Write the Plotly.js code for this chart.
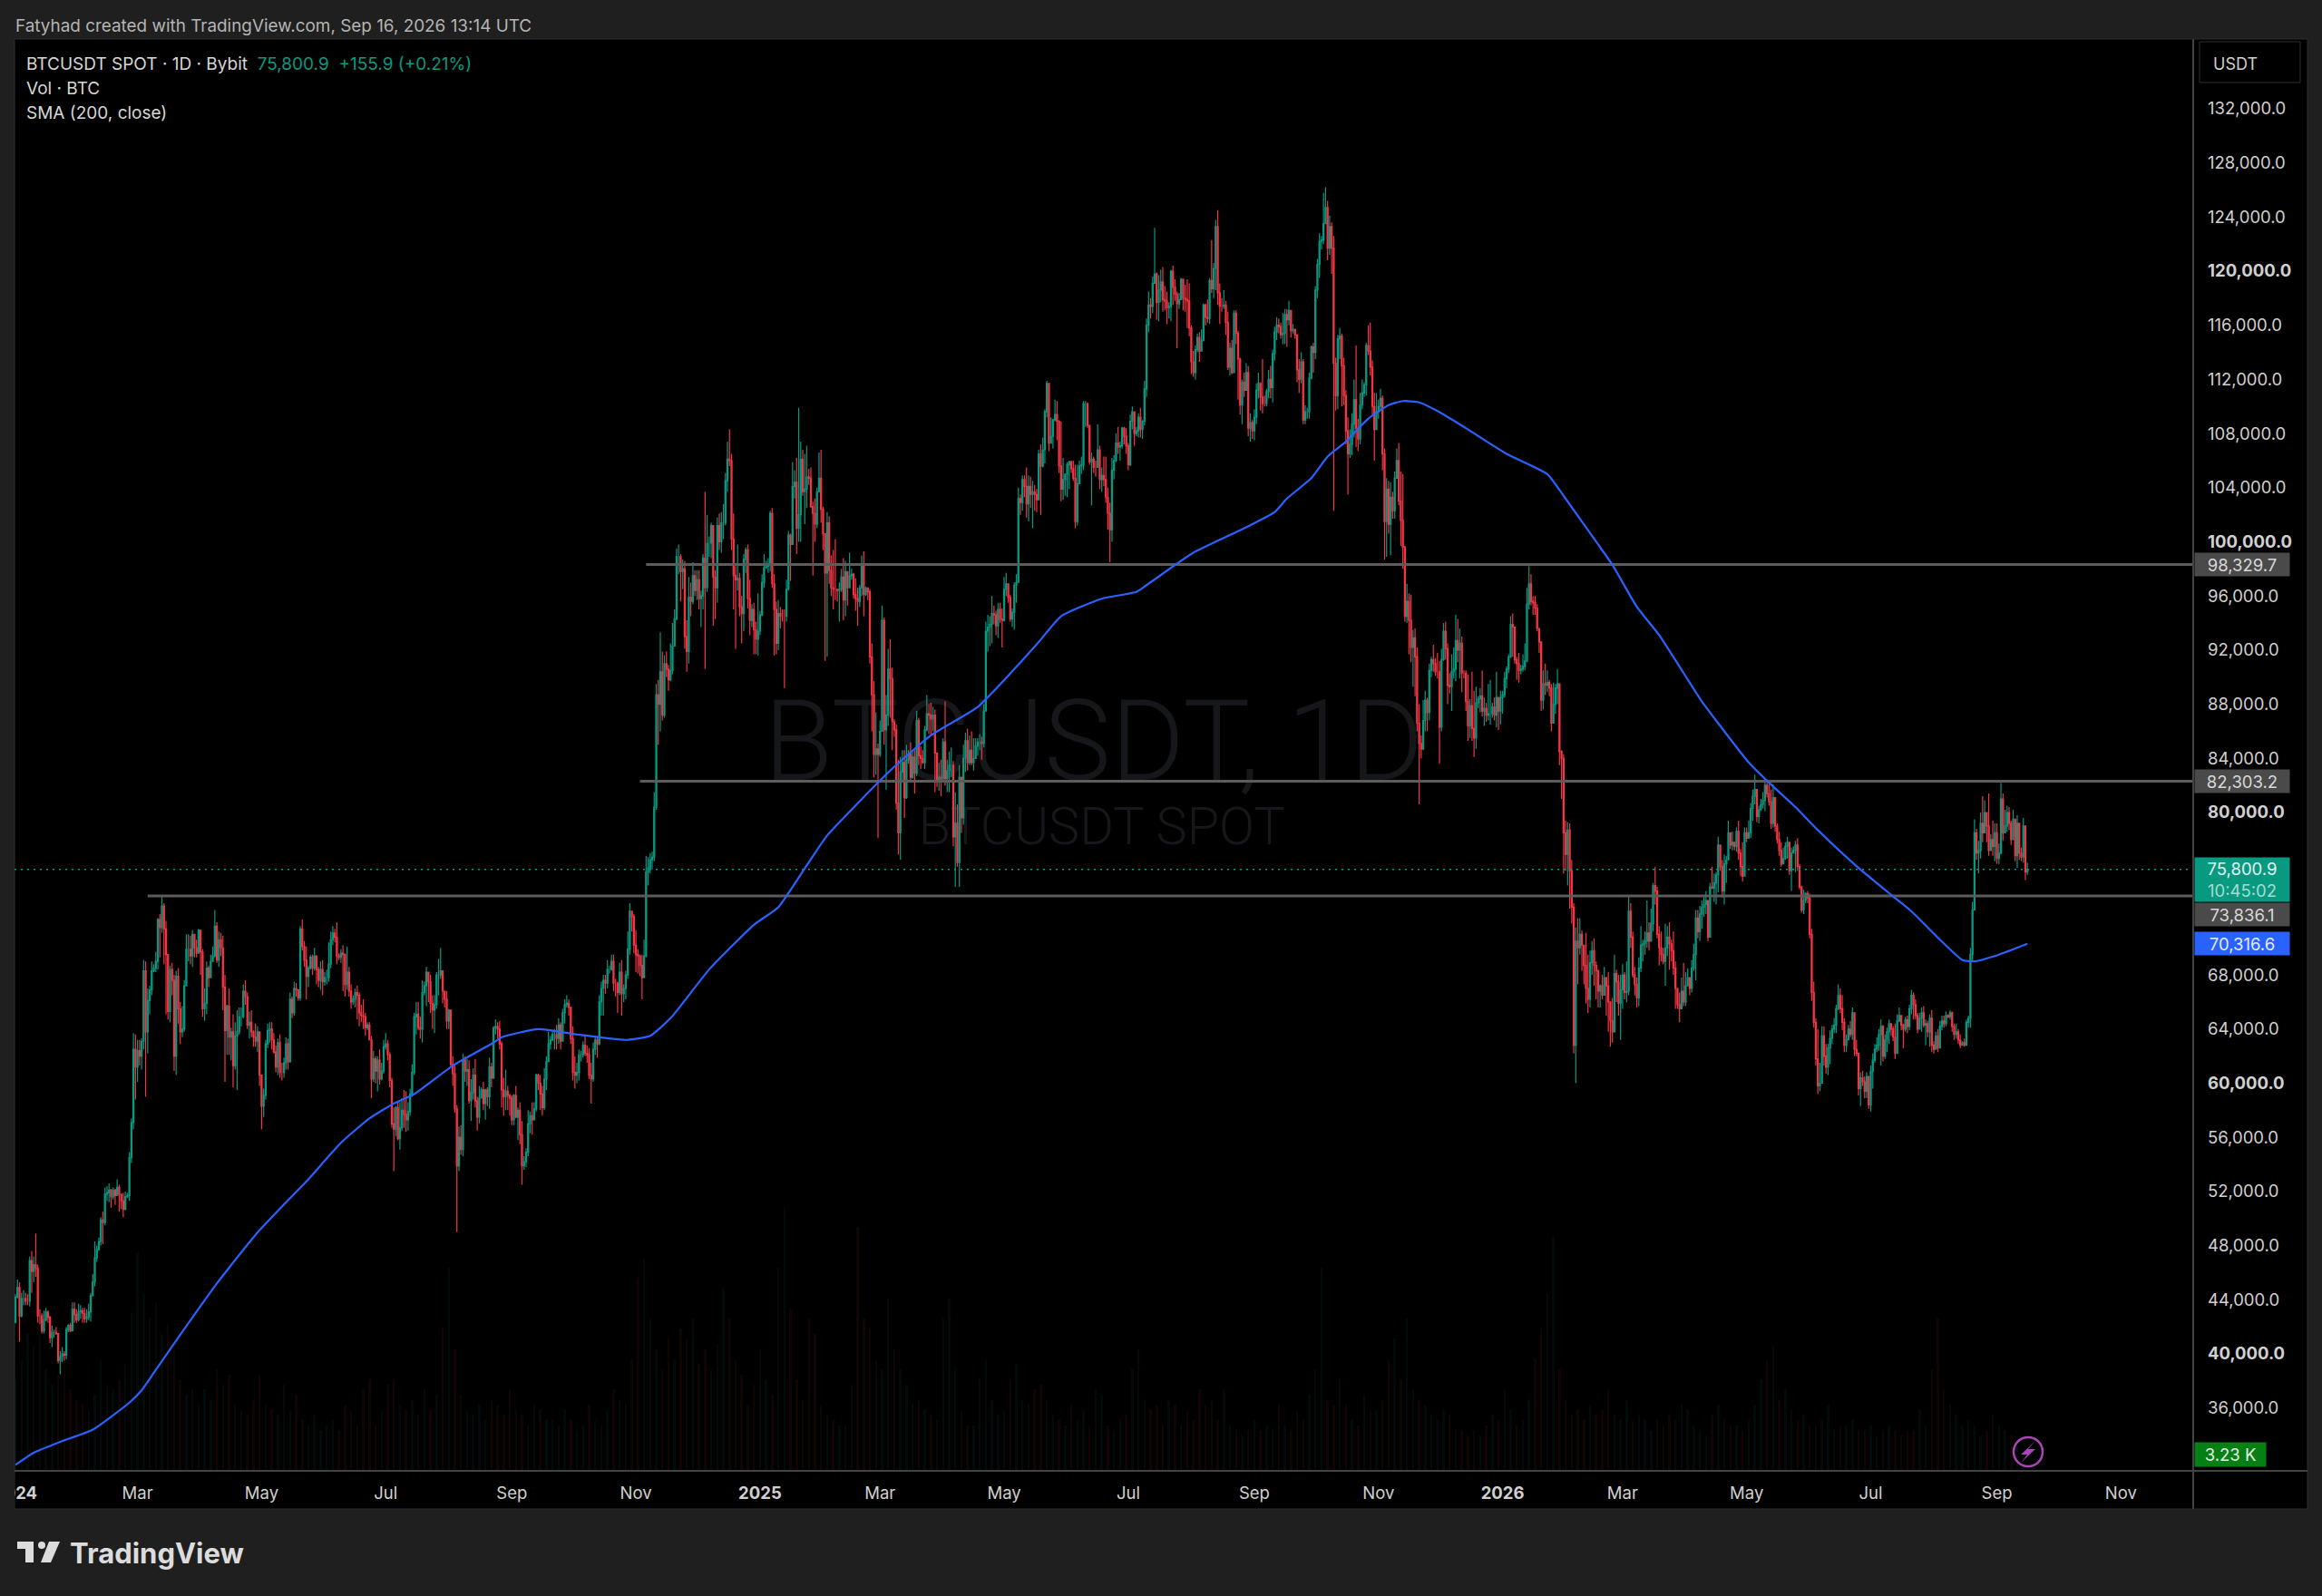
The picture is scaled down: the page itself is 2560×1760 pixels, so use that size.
<!DOCTYPE html>
<html>
<head>
<meta charset="utf-8">
<script src="https://cdn.plot.ly/plotly-3.0.1.min.js"></script>
<style>html,body{margin:0;padding:0;background:#1f1f1f}</style>
</head>
<body>
<div id="graph" style="width:2560px;height:1760px"></div>
<script>
// daily bars in hundreds of USDT, one row per month
const firstOpen = 423;
const closes = [
442,449,428,441,441,439,439,469,461,466,463,428,428,417,425,431,427,412,416,416,415,395,398,400,399,418,421,417,433,429,425,
431,432,430,426,427,431,443,453,471,477,483,499,497,518,519,521,516,521,517,523,518,513,507,516,517,545,571,625,612,
624,620,631,683,638,661,669,683,685,690,721,715,731,714,695,653,684,676,620,679,655,638,640,672,699,699,694,710,700,696,713,
697,655,659,685,678,690,694,716,691,706,700,671,639,657,634,638,613,635,638,649,649,668,664,643,645,638,634,631,638,606,
583,591,629,639,640,632,623,612,630,608,608,615,629,616,662,652,670,669,663,714,701,691,679,685,693,685,694,684,676,684,675,
678,678,688,706,711,708,694,693,696,695,673,682,668,660,662,667,665,652,650,649,641,643,632,603,618,609,617,603,609,627,
629,621,602,570,566,582,559,567,580,577,573,579,592,608,649,651,641,640,667,672,682,675,659,654,658,680,680,683,668,662,646,
654,614,607,581,539,560,551,617,609,610,587,593,606,587,575,589,595,585,595,590,612,604,641,642,640,629,595,590,594,591,589,
573,591,575,580,562,539,542,549,570,576,573,581,606,600,592,582,603,616,629,632,636,636,633,643,631,652,658,659,656,633,
608,606,608,621,621,628,622,621,606,603,625,632,629,660,670,676,674,684,684,690,674,674,667,682,666,670,680,699,727,723,702,
695,694,687,678,694,756,759,765,767,804,887,880,904,872,910,906,898,905,923,943,989,989,978,980,930,919,959,956,975,964,
972,958,960,988,966,999,999,1012,974,966,1012,1000,1014,1014,1045,1061,1060,1002,975,972,973,952,947,987,994,958,942,950,935,928,934,
946,970,981,982,983,1021,969,950,925,947,945,945,945,965,1005,998,1041,1044,1010,1020,1061,1037,1039,1048,1047,1026,1021,1013,1037,1047,1024,
1006,977,1014,979,966,965,965,964,965,974,957,978,966,975,976,961,958,956,966,983,961,966,963,915,887,843,847,843,
860,942,861,872,906,899,867,861,807,785,830,837,811,839,843,826,841,829,868,842,840,837,861,873,872,869,872,844,824,826,825,
852,825,831,835,835,782,792,763,826,796,840,853,837,846,837,840,849,852,852,851,875,934,937,939,947,946,938,950,943,942,
965,969,959,943,948,968,970,1032,1029,1046,1041,1028,1041,1035,1037,1035,1031,1065,1056,1068,1096,1117,1073,1078,1090,1094,1089,1056,1039,1046,1050,
1057,1059,1054,1047,1015,1043,1056,1057,1102,1102,1086,1059,1061,1055,1055,1068,1046,1049,1046,1033,1021,1009,1053,1060,1073,1070,1071,1084,1078,1071,
1057,1089,1096,1080,1082,1092,1083,1089,1113,1160,1175,1174,1191,1198,1177,1186,1192,1179,1178,1173,1174,1200,1188,1183,1176,1179,1194,1180,1179,1178,1158,
1133,1125,1142,1151,1141,1149,1175,1166,1165,1193,1187,1202,1233,1184,1174,1174,1175,1162,1129,1143,1125,1169,1154,1135,1101,1118,1112,1125,1084,1088,1082,
1092,1112,1117,1107,1102,1102,1111,1120,1114,1139,1155,1160,1159,1153,1154,1168,1164,1171,1156,1157,1153,1127,1120,1133,1090,1096,1096,1121,1144,1140,
1186,1205,1222,1223,1235,1247,1217,1233,1217,1132,1108,1150,1152,1130,1108,1082,1065,1072,1087,1105,1084,1076,1101,1110,1116,1145,1141,1129,1100,1083,1096,
1100,1106,1065,1015,1039,1013,1033,1023,1047,1060,1030,1016,996,945,956,942,922,929,915,866,851,847,868,883,874,905,913,910,904,904,
863,913,934,921,894,893,904,906,927,920,925,903,903,882,864,879,862,855,881,884,886,875,877,872,873,873,878,872,885,875,885,
887,899,906,915,939,937,913,910,905,906,908,912,954,969,956,955,951,936,926,883,895,894,896,892,866,880,892,895,845,840,785,
769,787,757,730,628,705,700,710,702,687,670,662,689,698,687,683,668,672,665,678,672,660,646,638,681,675,659,669,
680,667,668,727,708,680,673,663,685,702,703,705,711,705,718,746,742,710,700,695,690,700,708,703,698,685,670,658,655,668,660,672,678,
670,685,695,722,712,725,730,732,735,708,745,744,748,754,776,760,742,762,765,785,776,778,775,786,770,760,753,785,781,785,803,
812,817,797,802,806,809,820,814,808,792,811,790,780,772,762,766,775,778,757,770,772,776,760,745,728,735,740,737,710,667,645,618,
598,600,635,620,612,626,633,640,643,655,665,655,645,628,632,640,636,652,625,622,596,604,601,594,605,584,609,617,625,628,
636,642,620,632,638,644,640,634,622,646,650,643,640,647,642,655,665,658,650,640,648,652,643,644,638,648,628,625,635,626,642,
646,644,650,649,652,642,636,638,632,628,630,628,645,648,695,728,785,770,772,792,785,800,790,772,780,775,785,766,770,810,785,
790,800,792,780,795,768,792,770,767,790,756,758
];
const highs = [
444,455,453,445,447,445,444,472,476,472,489,466,433,430,432,434,432,428,421,418,420,415,402,405,402,420,422,423,438,438,433,
437,436,434,434,433,437,445,459,483,480,486,501,505,523,524,526,522,523,522,529,525,516,519,520,519,549,574,637,636,
632,632,633,691,690,670,672,690,688,697,722,725,738,733,720,694,687,689,680,683,685,660,657,676,710,710,709,713,710,706,714,
713,699,670,690,687,695,701,728,719,712,711,709,680,658,670,641,651,645,654,656,656,673,676,667,653,654,639,644,642,635,
606,596,632,644,645,645,637,628,633,636,615,619,634,633,667,664,675,674,669,716,721,705,701,687,695,695,700,693,686,690,691,
682,684,704,712,716,714,719,696,699,702,696,701,686,673,665,670,672,667,658,662,652,645,645,635,624,620,620,625,615,632,
637,632,623,604,582,583,587,586,589,595,594,586,596,614,652,660,660,649,676,675,686,682,680,665,665,682,692,700,679,668,668,
655,654,620,613,584,568,569,622,620,618,617,603,611,618,590,598,597,601,596,597,619,615,642,647,645,646,631,604,610,598,592,
591,592,598,582,586,572,546,552,580,579,586,586,607,607,606,598,611,620,638,635,639,640,643,648,645,655,662,665,662,654,
642,620,615,625,624,631,636,628,626,615,630,634,634,665,675,680,680,691,687,695,695,677,675,689,691,673,683,712,733,727,725,
713,699,695,695,706,768,767,770,771,815,895,898,933,919,916,919,909,925,940,950,995,998,991,987,986,942,974,970,985,979,
979,979,964,991,1037,1020,1004,1014,1012,979,1018,1021,1022,1028,1051,1074,1083,1065,1021,982,998,977,960,991,996,998,972,954,955,941,962,
949,976,991,986,988,1023,1025,976,956,957,952,950,950,972,1008,1006,1059,1053,1062,1099,1074,1068,1065,1071,1054,1055,1030,1032,1040,1066,1068,
1026,1006,1022,1019,990,994,1002,965,970,980,988,986,974,992,980,977,973,966,968,990,993,967,966,965,925,897,874,851,
868,953,944,887,921,928,907,869,865,839,841,846,846,850,846,852,846,846,875,870,849,846,864,887,880,881,878,876,842,837,839,
855,882,839,845,848,838,815,806,835,826,850,859,862,857,860,855,855,855,858,856,880,941,946,945,960,953,949,955,955,951,
974,977,965,961,951,970,976,1040,1035,1049,1049,1055,1049,1048,1045,1042,1039,1068,1072,1077,1098,1119,1116,1092,1091,1105,1104,1090,1089,1062,1050,
1059,1060,1060,1060,1057,1057,1060,1063,1104,1104,1103,1084,1066,1063,1060,1087,1071,1055,1063,1063,1040,1029,1062,1064,1080,1085,1074,1085,1085,1084,
1073,1094,1100,1095,1085,1095,1099,1090,1119,1165,1185,1180,1196,1232,1199,1197,1201,1203,1189,1185,1177,1201,1204,1194,1185,1184,1195,1191,1190,1194,1191,
1160,1141,1145,1154,1155,1157,1176,1176,1179,1195,1223,1206,1238,1245,1191,1180,1186,1178,1170,1147,1149,1171,1171,1156,1136,1120,1125,1132,1130,1095,1090,
1098,1117,1125,1118,1135,1108,1113,1127,1130,1142,1159,1166,1165,1162,1169,1172,1172,1178,1171,1161,1157,1151,1135,1140,1135,1101,1099,1125,1145,1147,
1189,1209,1228,1226,1258,1262,1252,1241,1236,1226,1136,1153,1158,1154,1136,1112,1092,1083,1095,1120,1145,1091,1110,1120,1118,1147,1160,1162,1134,1110,1110,
1105,1113,1108,1069,1047,1045,1044,1037,1052,1069,1073,1052,1050,997,969,962,961,935,936,922,880,857,883,890,885,910,915,924,914,918,
912,921,940,941,925,903,917,922,946,943,936,930,905,905,902,884,904,890,893,886,892,905,885,881,895,898,881,885,904,885,890,
890,904,908,917,945,947,937,915,918,909,917,925,966,982,976,960,960,954,936,919,905,910,905,898,895,896,895,906,893,846,843,
794,793,792,765,733,715,722,722,713,692,711,695,698,705,707,690,684,673,680,686,676,682,660,663,695,684,680,680,
688,682,690,738,733,712,686,678,693,716,706,712,735,719,729,748,760,745,716,712,700,718,716,719,706,712,690,666,667,678,689,682,685,
674,691,703,728,728,731,735,738,742,731,748,760,755,756,782,773,765,769,768,794,780,786,778,789,794,773,778,789,789,794,807,
817,828,817,805,810,815,825,822,821,817,821,810,792,786,778,774,778,782,778,774,775,779,781,762,746,743,741,742,740,714,675,648,
640,615,642,642,629,629,639,643,648,658,673,670,665,648,636,643,646,656,642,632,619,608,609,605,608,601,613,622,629,634,
640,647,643,636,641,647,644,642,644,651,656,650,644,649,650,658,669,667,662,652,652,656,657,647,646,651,654,631,638,640,646,
650,650,653,651,654,653,644,644,640,636,631,633,647,650,700,734,795,788,779,800,812,809,800,814,784,794,792,792,777,822,814,
802,805,804,794,802,785,798,775,774,796,782,763
];
const lows = [
424,441,409,427,436,436,436,435,445,453,457,423,422,415,415,424,423,408,405,412,414,393,385,394,395,396,416,416,417,423,423,
424,426,423,423,423,425,424,446,450,468,477,480,481,495,513,512,508,514,510,517,505,507,501,506,515,513,541,566,588,
601,613,610,625,590,622,651,665,682,682,684,693,711,688,651,647,645,665,609,606,644,629,634,638,691,690,688,686,693,693,696,
680,649,646,651,671,680,691,693,689,686,694,654,601,621,621,617,597,610,595,636,642,648,658,640,633,634,627,627,623,598,
566,575,588,626,630,625,622,608,606,604,602,604,610,610,615,648,650,664,661,661,698,686,662,671,684,680,683,673,671,669,665,
672,673,675,685,702,704,688,691,689,668,664,669,664,655,658,656,647,642,645,640,635,639,632,589,601,600,594,599,602,607,
625,617,597,567,535,561,558,551,565,567,564,565,576,590,606,636,639,633,630,665,657,660,652,640,637,655,665,677,659,656,640,
640,612,598,578,490,535,547,546,601,598,585,572,588,582,565,570,589,580,573,583,581,597,603,636,633,625,582,576,580,580,576,
569,569,574,558,555,525,536,538,546,563,562,573,579,595,580,576,580,595,616,625,631,625,625,629,625,631,644,656,650,629,
602,596,600,602,616,619,620,615,603,585,601,621,619,628,650,650,666,670,681,683,668,664,652,665,650,660,662,677,695,712,696,
682,681,679,662,690,693,746,755,758,764,802,850,860,868,870,900,890,897,902,923,942,976,956,965,921,904,910,945,954,960,
957,950,937,950,906,963,989,988,938,943,955,994,992,1002,1012,1037,1056,994,950,921,964,945,925,934,977,951,931,937,917,917,916,
931,945,966,980,977,978,966,916,917,920,936,941,892,941,964,971,1000,1032,991,1000,1000,1034,1013,1025,1042,1025,975,1000,1010,1037,1014,
994,912,915,969,960,950,957,956,941,963,942,945,953,968,972,958,949,938,952,960,945,960,957,910,860,826,828,781,
841,860,850,817,864,870,846,856,802,769,765,822,796,810,836,822,825,814,827,835,832,836,832,860,858,857,860,815,819,816,812,
822,820,815,815,826,775,745,760,745,785,791,830,831,835,835,831,840,842,846,839,848,875,919,923,925,939,931,929,940,922,
941,960,955,941,937,935,955,970,1020,1023,1033,1018,1015,1025,1010,1023,1022,1032,1020,1055,1058,1092,1067,1074,1069,1089,1075,1051,1030,1031,1034,
1033,1039,1051,1045,1010,1012,1047,1050,1053,1085,1084,1057,1027,1051,1048,1055,1039,1037,1041,1029,1009,985,1000,1046,1059,1065,1060,1069,1072,1065,
1053,1056,1083,1071,1078,1077,1077,1076,1086,1107,1155,1165,1169,1191,1164,1163,1177,1170,1171,1161,1165,1163,1175,1178,1143,1172,1179,1171,1170,1158,1152,
1124,1122,1120,1140,1133,1143,1148,1160,1162,1161,1184,1180,1186,1175,1161,1170,1172,1153,1127,1123,1124,1125,1146,1105,1094,1087,1107,1114,1078,1074,1076,
1075,1087,1106,1097,1095,1100,1100,1106,1106,1103,1134,1149,1154,1150,1146,1146,1144,1160,1151,1154,1150,1118,1110,1117,1087,1087,1091,1091,1120,1125,
1135,1180,1195,1216,1220,1236,1208,1212,1198,1023,1097,1098,1135,1100,1101,1072,1035,1062,1064,1077,1070,1067,1072,1098,1107,1108,1138,1123,1094,1060,1083,
1091,1098,1053,987,989,1006,990,1017,1017,1047,1027,997,980,941,940,917,911,893,886,860,806,840,846,860,860,868,900,904,901,899,
836,860,912,913,880,888,875,899,897,911,899,889,899,875,853,855,853,841,847,877,874,871,864,867,868,865,870,868,863,861,865,
873,885,892,903,914,915,910,898,896,902,904,905,911,950,953,946,946,934,918,875,876,887,889,886,860,866,873,880,835,810,755,
757,746,729,718,622,600,673,695,683,673,659,652,656,680,672,662,656,656,662,672,650,638,627,630,638,660,650,632,
655,662,660,665,700,678,665,656,657,682,690,695,700,698,707,712,732,707,687,690,688,672,694,684,690,680,655,655,645,655,657,657,672,
665,667,683,676,707,705,714,723,725,705,728,744,734,732,741,757,737,732,748,768,773,772,772,771,765,753,749,753,778,781,781,
794,806,793,792,801,803,801,811,805,788,789,786,777,768,760,762,765,766,754,742,771,756,757,743,726,725,733,733,707,661,641,613,
592,594,607,613,607,606,614,629,637,637,654,652,639,623,623,632,634,632,620,620,591,583,598,589,589,581,579,596,615,623,
624,613,616,618,623,629,635,631,618,623,645,639,626,638,637,639,651,647,647,637,640,638,641,628,634,627,623,622,627,623,634,
639,641,642,648,647,638,632,633,629,626,629,627,628,641,641,690,729,765,755,766,778,785,778,768,773,768,764,762,762,769,779,
787,786,787,776,784,764,759,765,764,763,750,754
];

// 200 day SMA, sampled off the blue line, in thousands of USDT
const smaDates = [
'2024-01-01','2024-01-10','2024-01-23','2024-02-08','2024-02-26','2024-03-03','2024-03-09','2024-03-21','2024-04-09','2024-04-28',
'2024-05-15','2024-05-24','2024-06-09','2024-06-23','2024-07-05','2024-07-15','2024-08-03','2024-08-23','2024-08-27','2024-09-14',
'2024-10-03','2024-10-27','2024-11-08','2024-11-18','2024-12-07','2024-12-29','2025-01-10','2025-01-24','2025-02-03','2025-02-22',
'2025-03-06','2025-03-26','2025-04-18','2025-05-06','2025-05-18','2025-05-29','2025-06-18','2025-07-05','2025-07-10','2025-07-25',
'2025-08-02','2025-08-27','2025-09-11','2025-09-17','2025-09-29','2025-10-07','2025-10-16','2025-10-27','2025-11-06','2025-11-13',
'2025-11-21','2025-12-02','2025-12-14','2026-01-03','2026-01-23','2026-01-31','2026-02-17','2026-02-24','2026-03-08','2026-03-19',
'2026-03-31','2026-04-09','2026-04-18','2026-05-02','2026-05-12','2026-05-25','2026-06-05','2026-06-25','2026-07-12','2026-07-21',
'2026-08-04','2026-08-15','2026-08-21','2026-09-02','2026-09-16'
];
const smaValues = [
31.8,32.7,33.5,34.4,36.4,37.3,38.6,41.2,45.2,48.8,
51.5,52.9,55.6,57.4,58.5,59.2,61.3,63.0,63.4,64.0,
63.6,63.2,63.5,64.8,68.4,71.7,73.0,76.1,78.3,81.3,
83.1,85.7,87.8,90.6,92.6,94.5,95.8,96.3,96.8,98.4,
99.2,101.0,102.2,103.2,104.7,106.3,107.4,109.1,110.1,110.4,
110.3,109.5,108.4,106.5,105.0,103.4,99.8,98.3,95.2,93.1,
90.3,88.2,86.4,83.7,82.2,80.4,78.7,75.9,73.8,72.7,
70.6,69.1,69.0,69.5,70.3
];

// volume in thousands of BTC, one reading every third day
const volumes = [
18,22,27,25,33,20,17,19,24,16,
14,13,12,15,22,17,16,18,21,31,
43,35,30,33,27,29,24,18,15,16,
13,16,14,20,17,19,13,12,11,14,
19,13,12,11,17,12,15,10,9,11,
8,9,10,8,13,12,9,16,18,9,
12,17,18,13,12,14,11,16,12,15,
28,40,24,15,12,11,13,10,14,13,
11,16,12,11,9,13,12,10,10,9,
12,10,8,9,13,10,9,12,16,14,
13,22,38,42,30,24,20,26,22,28,
26,30,21,24,20,25,36,30,22,19,
13,17,24,18,15,40,52,32,18,14,
30,27,13,11,10,9,9,17,48,30,
28,22,20,34,24,20,17,13,14,12,
11,10,30,34,20,12,9,9,18,22,
14,11,12,18,21,14,13,16,17,14,
11,10,9,13,10,12,9,16,15,9,
8,10,11,20,24,14,12,13,9,14,
13,9,12,10,16,13,14,10,16,9,
8,7,8,10,8,9,8,13,9,8,
12,10,15,20,40,14,13,18,13,10,
9,15,12,12,14,22,26,18,30,16,
14,13,11,10,12,11,8,8,7,8,
7,9,11,10,16,12,9,10,14,22,
28,35,46,20,14,11,12,10,13,11,
12,16,11,10,14,10,11,10,8,10,
9,11,10,13,12,9,8,7,11,13,
10,9,9,8,10,13,18,22,25,14,
16,12,10,11,9,9,10,13,8,9,
9,10,8,8,9,7,8,9,8,7,
8,8,12,9,20,30,16,13,11,9,
10,9,7,8,11,9,8,7,6,3.23
];

// drawn horizontal levels
const levelPrices = [73836.1, 82303.2, 98329.7];
const levelStarts = ['2024-03-06', '2024-11-03', '2024-11-06'];
const lastPrice = 75800.9;
const smaLast = 70316.6;

const priceTicks = [36000,40000,44000,48000,52000,56000,60000,64000,68000,80000,84000,88000,92000,96000,100000,104000,108000,112000,116000,120000,124000,128000,132000];
const xTickDates = ['2024-01-01','2024-03-01','2024-05-01','2024-07-01','2024-09-01','2024-11-01','2025-01-01','2025-03-01','2025-05-01','2025-07-01','2025-09-01','2025-11-01','2026-01-01','2026-03-01','2026-05-01','2026-07-01','2026-09-01','2026-11-01'];
const xTickLabels = ['<b>2024</b>','Mar','May','Jul','Sep','Nov','<b>2025</b>','Mar','May','Jul','Sep','Nov','<b>2026</b>','Mar','May','Jul','Sep','Nov'];

const xStart = '2023-12-31 13:00';
const xEnd = '2026-12-06 12:00';

// pixel to paper helpers, plot box is 16..2418 by 43..1622
const L = 16, R = 2418, T = 43, B = 1622;
const px = x => (x - L) / (R - L);
const py = y => (B - y) / (B - T);

const font = 'Inter, Roboto, sans-serif';
const markFont = 'Roboto, sans-serif';
const upColor = '#089981', downColor = '#f23645', panelBg = '#1f1f1f';

function dayStr(i) {
  return new Date(Date.UTC(2024, 0, 1 + i)).toISOString().slice(0, 10);
}

const dates = closes.map((c, i) => dayStr(i));
const opens = closes.map((c, i) => (i === 0 ? firstOpen : closes[i - 1]) * 100);
const volDates = volumes.map((v, i) => dayStr(i * 3));
const volColors = volumes.map((v, i) => {
  const k = i * 3;
  return closes[k] * 100 >= opens[k] ? 'rgba(8,153,129,0.07)' : 'rgba(242,54,69,0.07)';
});

const data = [
  {
    type: 'bar', x: volDates, y: volumes, width: 86400000 * 1.1,
    marker: { color: volColors, line: { width: 0 } }, hoverinfo: 'skip', showlegend: false
  },
  {
    type: 'scatter', mode: 'text', x: ['2025-06-14', '2025-06-18'], y: [141.7, 126],
    text: ['BTCUSDT, 1D', 'BTCUSDT SPOT'],
    textfont: { family: markFont, size: [124, 57.6], color: '#16171a', weight: 300 },
    textposition: 'middle center', hoverinfo: 'skip', showlegend: false
  },
  {
    type: 'candlestick', x: dates, yaxis: 'y2',
    open: opens,
    high: highs.map(v => v * 100),
    low: lows.map(v => v * 100),
    close: closes.map(v => v * 100),
    width: 86400000 * 0.5,
    increasing: { line: { color: upColor, width: 1.2 }, fillcolor: upColor },
    decreasing: { line: { color: downColor, width: 1.2 }, fillcolor: downColor },
    hoverinfo: 'skip', showlegend: false
  },
  {
    type: 'scatter', mode: 'lines', x: [xStart, xEnd], y: [lastPrice, lastPrice], yaxis: 'y2',
    line: { color: upColor, width: 1.5, dash: '2px,5px' }, hoverinfo: 'skip', showlegend: false
  }
];
levelPrices.forEach((p, i) => {
  data.push({
    type: 'scatter', mode: 'lines', x: [levelStarts[i], xEnd], y: [p, p], yaxis: 'y2',
    line: { color: '#5c5c5c', width: 3 }, hoverinfo: 'skip', showlegend: false
  });
});
data.push({
  type: 'scatter', mode: 'lines', x: smaDates, y: smaValues.map(v => v * 1000), yaxis: 'y2',
  line: { color: '#2962ff', width: 2.2, shape: 'spline', smoothing: 0.5 }, hoverinfo: 'skip', showlegend: false
});

function textNote(x, y, text, size, color, anchor) {
  return {
    xref: 'paper', yref: 'paper', x: px(x), y: py(y), text: text, showarrow: false,
    xanchor: anchor || 'left', yanchor: 'middle', align: 'left',
    font: { family: font, size: size, color: color }
  };
}

function priceLabel(price, text, bg, color, shift, h) {
  return {
    xref: 'paper', yref: 'y2', x: 1, y: price, yshift: shift, xshift: 1, text: text, showarrow: false,
    xanchor: 'left', yanchor: 'middle', align: 'center', width: 104, height: h || 25,
    bgcolor: bg, borderpad: 0, font: { family: font, size: 18.5, color: color }
  };
}

const annotations = [
  textNote(15, 28, 'Fatyhad created with TradingView.com, Sep 16, 2026 13:14 UTC', 18.9, '#b4b4b4'),
  textNote(27, 71, 'BTCUSDT SPOT · 1D · Bybit  <span style="color:#089981">75,800.9  +155.9 (+0.21%)</span>', 19, '#d6d6d6'),
  textNote(27, 98, 'Vol · BTC', 19, '#d6d6d6'),
  textNote(27, 125, 'SMA (200, close)', 19, '#d6d6d6'),
  textNote(2438, 70, 'USDT', 18, '#cfcfcf'),
  priceLabel(lastPrice, '75,800.9<br><span style="color:#a5dccf">10:45:02</span>', '#089981', '#e4f4f0', -11.5, 48),
  priceLabel(levelPrices[0], '73,836.1', '#4a4a4a', '#d8d8d8', -20),
  priceLabel(levelPrices[1], '82,303.2', '#4a4a4a', '#d8d8d8', 0),
  priceLabel(levelPrices[2], '98,329.7', '#4a4a4a', '#d8d8d8', 0),
  priceLabel(smaLast, '70,316.6', '#2962ff', '#e6ecff', 0),
  {
    xref: 'paper', yref: 'paper', x: 1, y: py(1604), xshift: 1, text: '3.23 K', showarrow: false,
    xanchor: 'left', yanchor: 'middle', align: 'center', width: 78, height: 26,
    bgcolor: '#067f14', borderpad: 0, font: { family: font, size: 18.5, color: '#e4f2e5' }
  },
  textNote(75, 1712, '<b>TradingView</b>', 31, '#dcdcdc')
];

function poly(points, fill) {
  const d = points.map((p, i) => (i ? 'L' : 'M') + px(p[0]) + ' ' + py(p[1])).join(' ') + ' Z';
  return { type: 'path', xref: 'paper', yref: 'paper', path: d, fillcolor: fill, line: { width: 0 }, layer: 'above' };
}
function box(x0, y0, x1, y1, fill, lineColor, layer, lw) {
  return {
    type: 'rect', xref: 'paper', yref: 'paper', x0: px(x0), x1: px(x1), y0: py(y0), y1: py(y1),
    fillcolor: fill, line: { color: lineColor || fill, width: lineColor ? (lw || 1) : 0 }, layer: layer || 'below'
  };
}

const shapes = [
  box(16, 43, 2544, 1664, '#000000', '#2c2c2c'),
  box(2425, 46, 2536, 91, '#000000', '#2e2e2e'),
  { type: 'line', xref: 'paper', yref: 'paper', x0: px(R), x1: px(R), y0: py(43), y1: py(1664), line: { color: '#434343', width: 2 }, layer: 'above' },
  { type: 'line', xref: 'paper', yref: 'paper', x0: px(16), x1: px(2544), y0: py(B), y1: py(B), line: { color: '#434343', width: 2 }, layer: 'above' },
  // the 2024 tick label is cut by the panel edge
  box(0, 1624, 16, 1664, panelBg, null, 'above'),
  { type: 'circle', xref: 'paper', yref: 'paper', x0: px(2220), x1: px(2252), y0: py(1585), y1: py(1617), line: { color: '#a845b8', width: 2.5 }, fillcolor: 'rgba(0,0,0,0)', layer: 'above' },
  poly([[2243, 1590], [2228, 1604], [2235, 1604], [2229, 1612], [2244, 1598], [2236, 1598]], '#a845b8'),
  // tradingview mark
  poly([[19, 1700], [37, 1700], [37, 1723], [28, 1723], [28, 1708], [19, 1708]], '#dcdcdc'),
  { type: 'circle', xref: 'paper', yref: 'paper', x0: px(42), x1: px(50), y0: py(1700), y1: py(1708), fillcolor: '#dcdcdc', line: { width: 0 }, layer: 'above' },
  poly([[54, 1700], [66, 1700], [56, 1723], [45, 1723]], '#dcdcdc')
];

const layout = {
  width: 2560, height: 1760,
  margin: { l: L, r: 2560 - R, t: T, b: 1760 - B, pad: 0 },
  paper_bgcolor: panelBg, plot_bgcolor: '#000000',
  showlegend: false, dragmode: false, bargap: 0,
  font: { family: font, color: '#d0d0d0' },
  xaxis: {
    type: 'date', range: [xStart, xEnd], rangeslider: { visible: false },
    tickmode: 'array', tickvals: xTickDates, ticktext: xTickLabels, tickangle: 0,
    ticks: '', showgrid: false, zeroline: false, showline: false, ticklabelstandoff: 11,
    ticklabeloverflow: 'allow',
    tickfont: { family: font, size: 18.5, color: '#d0d0d0' }
  },
  yaxis: { range: [0, 282], visible: false, fixedrange: true },
  yaxis2: {
    overlaying: 'y', side: 'right', anchor: 'x', range: [31357, 137152],
    tickmode: 'array', tickvals: priceTicks,
    ticktext: priceTicks.map(v => {
      const t = v.toLocaleString('en-US') + '.0';
      return v % 20000 === 0 ? '<b>' + t + '</b>' : t;
    }),
    ticks: '', showgrid: false, zeroline: false, showline: false, ticklabelstandoff: 15,
    tickfont: { family: font, size: 18.5, color: '#d0d0d0' }
  },
  annotations: annotations,
  shapes: shapes
};

Plotly.newPlot('graph', data, layout, { displayModeBar: false, staticPlot: true });
</script>
</body>
</html>
